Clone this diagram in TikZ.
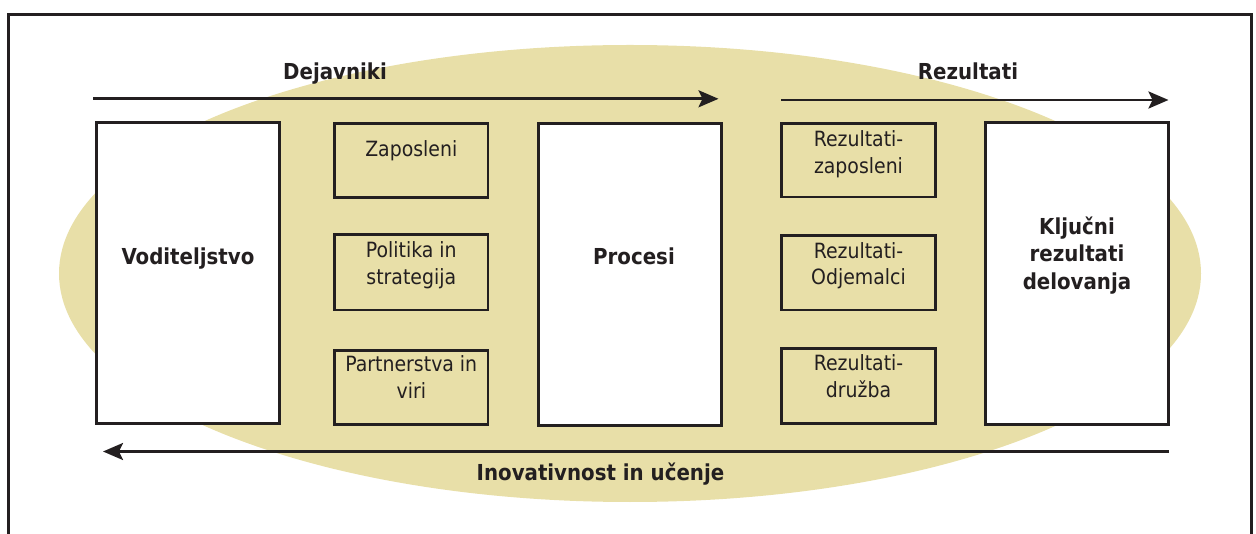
\documentclass[tikz,border=0pt]{standalone}
\usepackage{fontspec}
\setmainfont{DejaVu Sans Condensed}
\usetikzlibrary{arrows.meta}
\definecolor{tan}{RGB}{232,223,168}
\definecolor{ink}{RGB}{35,31,32}
\tikzset{
  bigbox/.style={draw=ink, line width=3pt, fill=white, inner sep=0pt},
  smallbox/.style={draw=ink, line width=2.7pt, fill=tan, inner sep=0pt},
  txt/.style={text=ink, font=\fontsize{21}{26.7}\selectfont, align=center, inner sep=0pt, anchor=base},
  btxt/.style={text=ink, font=\fontsize{22}{27.5}\selectfont\bfseries, align=center, inner sep=0pt, anchor=base},
  flow/.style={draw=ink, line width=2.6pt, -{Stealth[length=20pt,width=17pt,inset=4pt]}},
}
\begin{document}
\begin{tikzpicture}[x=1pt,y=-1pt]
\useasboundingbox (0,0) rectangle (1256,534);
% background ellipse
\fill[tan] (630,273.5) ellipse [x radius=571, y radius=228.5];
% outer frame (bottom edge lies below the picture)
\draw[ink, line width=3.2pt] (8.5,560) -- (8.5,14.5) -- (1251.5,14.5) -- (1251.5,560);
% big boxes
\node[bigbox, minimum width=183pt, minimum height=301pt] (vod) at (188,273) {};
\node[bigbox, minimum width=183pt, minimum height=302pt] (pro) at (629.5,275) {};
\node[bigbox, minimum width=183.3pt, minimum height=302pt] (klj) at (1077.3,274) {};
% left column
\node[smallbox, minimum width=153.3pt, minimum height=73.6pt] (zap) at (411.3,160.5) {};
\node[smallbox, minimum width=153.3pt, minimum height=75.3pt] (pol) at (411.3,272.3) {};
\node[smallbox, minimum width=153.3pt, minimum height=74pt] (par) at (411.3,387.3) {};
% right column
\node[smallbox, minimum width=153.6pt, minimum height=73.6pt] (rz) at (858.5,160.3) {};
\node[smallbox, minimum width=153.6pt, minimum height=74.5pt] (ro) at (858.5,272.7) {};
\node[smallbox, minimum width=153.6pt, minimum height=75pt] (rd) at (858.5,386) {};
% texts (base anchor = baseline of the last line)
\node[btxt] (tvod) at (188,265) {Voditeljstvo};
\node[btxt] (tpro) at (634,265) {Procesi};
\node[btxt] (tklj) at (1077,289.5) {Ključni\\rezultati\\delovanja};
\node[txt] (tzap) at (411.3,156.7) {Zaposleni};
\node[txt] (tpol) at (411.3,284.5) {Politika in\\strategija};
\node[txt] (tpar) at (411.3,398.3) {Partnerstva in\\viri};
\node[txt] (trz) at (858.5,173.5) {Rezultati-\\zaposleni};
\node[txt] (tro) at (858.5,285) {Rezultati-\\Odjemalci};
\node[txt] (trd) at (858.5,397.5) {Rezultati-\\družba};
% flow labels
\node[btxt] (ldej) at (335,79.5) {Dejavniki};
\node[btxt] (lrez) at (968,80) {Rezultati};
\node[btxt] (linv) at (600.5,480) {Inovativnost in učenje};
% arrows
\coordinate (a1s) at (93,98.8);
\coordinate (a1e) at (718.5,98.8);
\coordinate (a2s) at (781,100);
\coordinate (a2e) at (1168.5,100);
\coordinate (a3s) at (1169,451.5);
\coordinate (a3e) at (103,451.5);
\draw[flow] (a1s) -- (a1e);
\draw[flow] (a2s) -- (a2e);
\draw[flow] (a3s) -- (a3e);
\end{tikzpicture}
\end{document}
